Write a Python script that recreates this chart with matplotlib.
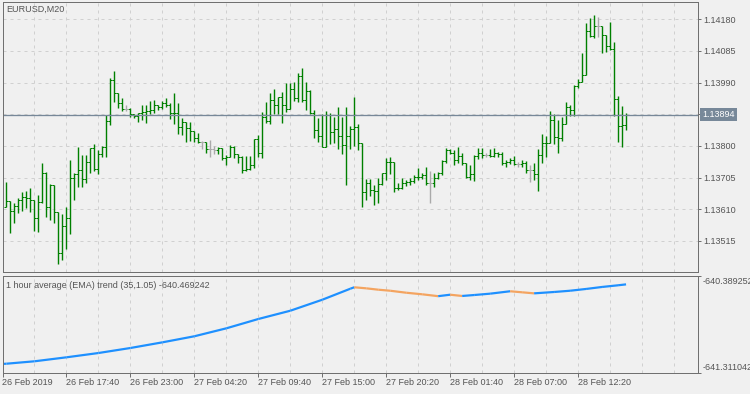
import matplotlib
matplotlib.use("Agg")
import matplotlib.pyplot as plt
import numpy as np

# --- data (EURUSD, 20 minute bars) ---
symbol_title = "EURUSD,M20"
first_open = 1.13616

highs = [1.13691, 1.13634, 1.13628, 1.13644, 1.13662, 1.13665, 1.13674, 1.13637, 1.13652, 1.13749,
         1.13721, 1.13686, 1.13683, 1.13602, 1.13596, 1.13617, 1.13758, 1.13719, 1.13798, 1.13773,
         1.13772, 1.13794, 1.13805, 1.13788, 1.13800, 1.13893, 1.14003, 1.14024, 1.13959, 1.13944,
         1.13923, 1.13913, 1.13896, 1.13900, 1.13923, 1.13923, 1.13936, 1.13938, 1.13924, 1.13934,
         1.13943, 1.13928, 1.13960, 1.13928, 1.13883, 1.13873, 1.13871, 1.13846, 1.13838, 1.13815,
         1.13813, 1.13818, 1.13799, 1.13796, 1.13793, 1.13773, 1.13803, 1.13800, 1.13775, 1.13771,
         1.13770, 1.13770, 1.13821, 1.13833, 1.13903, 1.13931, 1.13958, 1.13970, 1.13948, 1.13961,
         1.13988, 1.13988, 1.13993, 1.14018, 1.14033, 1.13993, 1.13968, 1.13908, 1.13885, 1.13895,
         1.13906, 1.13900, 1.13886, 1.13918, 1.13886, 1.13916, 1.13860, 1.13946, 1.13866, 1.13808,
         1.13701, 1.13700, 1.13683, 1.13703, 1.13720, 1.13763, 1.13768, 1.13753, 1.13690, 1.13703,
         1.13698, 1.13703, 1.13713, 1.13733, 1.13718, 1.13738, 1.13725, 1.13720, 1.13723, 1.13758,
         1.13793, 1.13790, 1.13788, 1.13798, 1.13778, 1.13750, 1.13743, 1.13773, 1.13793, 1.13795,
         1.13778, 1.13790, 1.13795, 1.13783, 1.13783, 1.13758, 1.13763, 1.13770, 1.13753, 1.13758,
         1.13756, 1.13743, 1.13748, 1.13790, 1.13836, 1.13831, 1.13905, 1.13896, 1.13878, 1.13888,
         1.13932, 1.13923, 1.13983, 1.14000, 1.14078, 1.14170, 1.14183, 1.14193, 1.14188, 1.14160,
         1.14133, 1.14173, 1.14113, 1.13950, 1.13920, 1.13900]

lows = [1.13616, 1.13538, 1.13568, 1.13600, 1.13606, 1.13615, 1.13603, 1.13546, 1.13541, 1.13628,
        1.13588, 1.13578, 1.13569, 1.13445, 1.13457, 1.13492, 1.13535, 1.13639, 1.13678, 1.13678,
        1.13688, 1.13718, 1.13725, 1.13715, 1.13766, 1.13768, 1.13862, 1.13932, 1.13913, 1.13906,
        1.13906, 1.13888, 1.13883, 1.13872, 1.13878, 1.13868, 1.13896, 1.13900, 1.13908, 1.13912,
        1.13916, 1.13881, 1.13865, 1.13836, 1.13833, 1.13813, 1.13816, 1.13813, 1.13808, 1.13790,
        1.13780, 1.13768, 1.13776, 1.13776, 1.13758, 1.13743, 1.13766, 1.13763, 1.13748, 1.13720,
        1.13726, 1.13728, 1.13733, 1.13768, 1.13763, 1.13868, 1.13866, 1.13895, 1.13896, 1.13868,
        1.13903, 1.13910, 1.13936, 1.13933, 1.13933, 1.13908, 1.13896, 1.13825, 1.13813, 1.13796,
        1.13798, 1.13806, 1.13808, 1.13790, 1.13776, 1.13683, 1.13790, 1.13800, 1.13788, 1.13618,
        1.13638, 1.13650, 1.13623, 1.13628, 1.13683, 1.13698, 1.13716, 1.13663, 1.13668, 1.13670,
        1.13680, 1.13683, 1.13688, 1.13698, 1.13700, 1.13683, 1.13628, 1.13676, 1.13700, 1.13713,
        1.13748, 1.13775, 1.13743, 1.13748, 1.13743, 1.13703, 1.13698, 1.13696, 1.13760, 1.13763,
        1.13768, 1.13766, 1.13768, 1.13766, 1.13743, 1.13738, 1.13746, 1.13743, 1.13738, 1.13736,
        1.13718, 1.13693, 1.13698, 1.13666, 1.13748, 1.13768, 1.13808, 1.13806, 1.13778, 1.13815,
        1.13865, 1.13890, 1.13890, 1.13973, 1.13993, 1.14013, 1.14128, 1.14123, 1.14126, 1.14078,
        1.14083, 1.14088, 1.13890, 1.13813, 1.13796, 1.13848]

closes = [1.13634, 1.13604, 1.13620, 1.13637, 1.13647, 1.13645, 1.13637, 1.13583, 1.13631, 1.13720,
          1.13616, 1.13683, 1.13602, 1.13479, 1.13560, 1.13583, 1.13705, 1.13715, 1.13728, 1.13701,
          1.13752, 1.13793, 1.13731, 1.13776, 1.13798, 1.13874, 1.13997, 1.13958, 1.13928, 1.13912,
          1.13912, 1.13896, 1.13891, 1.13898, 1.13903, 1.13905, 1.13908, 1.13923, 1.13916, 1.13930,
          1.13923, 1.13898, 1.13900, 1.13856, 1.13871, 1.13853, 1.13846, 1.13823, 1.13813, 1.13813,
          1.13790, 1.13790, 1.13789, 1.13793, 1.13763, 1.13768, 1.13798, 1.13775, 1.13768, 1.13728,
          1.13730, 1.13742, 1.13820, 1.13778, 1.13888, 1.13875, 1.13938, 1.13923, 1.13946, 1.13923,
          1.13910, 1.13970, 1.13943, 1.14010, 1.13938, 1.13965, 1.13900, 1.13848, 1.13830, 1.13798,
          1.13893, 1.13843, 1.13850, 1.13830, 1.13803, 1.13830, 1.13850, 1.13858, 1.13808, 1.13661,
          1.13688, 1.13668, 1.13665, 1.13686, 1.13718, 1.13753, 1.13751, 1.13675, 1.13673, 1.13690,
          1.13693, 1.13696, 1.13708, 1.13706, 1.13713, 1.13690, 1.13690, 1.13705, 1.13720, 1.13755,
          1.13788, 1.13780, 1.13758, 1.13770, 1.13748, 1.13708, 1.13715, 1.13771, 1.13780, 1.13773,
          1.13773, 1.13771, 1.13780, 1.13776, 1.13748, 1.13753, 1.13758, 1.13746, 1.13745, 1.13750,
          1.13728, 1.13728, 1.13716, 1.13773, 1.13808, 1.13810, 1.13878, 1.13826, 1.13823, 1.13865,
          1.13916, 1.13908, 1.13981, 1.13993, 1.14013, 1.14146, 1.14131, 1.14161, 1.14160, 1.14133,
          1.14100, 1.14090, 1.13940, 1.13860, 1.13862, 1.13894]

price_ticks = [1.14180, 1.14085, 1.13990, 1.13895, 1.13800, 1.13705, 1.13610, 1.13515]
last_price = 1.13894

time_labels = ["26 Feb 2019", "26 Feb 17:40", "26 Feb 23:00", "27 Feb 04:20", "27 Feb 09:40",
               "27 Feb 15:00", "27 Feb 20:20", "28 Feb 01:40", "28 Feb 07:00", "28 Feb 12:20"]
time_label_bars = [-1, 15, 31, 47, 63, 79, 95, 111, 127, 143]

ema_title = "1 hour average (EMA) trend (35,1.05) -640.469242"
ema_bars = [-1, 0, 7, 15, 23, 31, 39, 47, 55, 63, 71, 79, 86, 87, 90, 93, 96, 100, 104, 108,
            111, 114, 117, 121, 126, 129, 132, 137, 141, 145, 149, 153, 155]
ema_vals = [-641.229, -641.227, -641.204, -641.166, -641.125, -641.077, -641.023, -640.965,
            -640.889, -640.800, -640.721, -640.616, -640.511, -640.497, -640.507, -640.520,
            -640.530, -640.549, -640.564, -640.582, -640.568, -640.580, -640.571, -640.558,
            -640.535, -640.545, -640.555, -640.542, -640.530, -640.513, -640.494, -640.478,
            -640.469242]
ema_top = -640.389252
ema_bottom = -641.311042

# --- style ---
W, H = 750, 394
bg = "#f0f0f0"
fg = "#555555"
frame = "#707070"
gridc = "#d0d0d0"
bar_up = "#008000"
bar_doji = "#aaaaaa"
price_line = "#778899"
rise_col = "#1e90ff"
fall_col = "#f4a460"
px = 0.72  # one pixel in points at dpi 100

plt.rcParams["font.family"] = ["Liberation Sans", "DejaVu Sans"]
plt.rcParams["font.size"] = 6.5


def box(x0, y0, x1, y1):
    return [x0 / W, 1 - y1 / H, (x1 - x0) / W, (y1 - y0) / H]


fig = plt.figure(figsize=(W / 100, H / 100), dpi=100, facecolor=bg)
ax = fig.add_axes(box(2.5, 2, 697.5, 272))
ax2 = fig.add_axes(box(2.5, 276, 697.5, 372.5))

x = np.arange(len(closes))
opens = np.array([first_open] + closes[:-1])
cl = np.array(closes)
cols = [bar_doji if np.isclose(o, c) else bar_up for o, c in zip(opens, cl)]

for a in (ax, ax2):
    a.set_facecolor(bg)
    a.set_xlim(-0.875, 172.875)
    for s in a.spines.values():
        s.set_color(frame)
        s.set_linewidth(px)
    a.set_xticks(np.arange(-1, 172, 8), minor=True)
    a.grid(True, which="both", axis="x", color=gridc, lw=px, ls=(0, (3, 4)))

# --- price panel ---
ax.vlines(x, lows, highs, colors=cols, lw=1.4 * px)
ax.hlines(opens, x - 0.5, x, colors=cols, lw=px)
ax.hlines(cl, x, x + 0.5, colors=cols, lw=px)
ax.axhline(last_price, color=price_line, lw=1.3 * px)

ax.set_ylim(1.134219, 1.142319)
ax.set_yticks(price_ticks)
ax.set_yticklabels(["" if abs(p - 1.13895) < 1e-7 else f"{p:.5f}" for p in price_ticks])
ax.yaxis.tick_right()
ax.tick_params(axis="y", length=3 * px, width=px, color=frame, pad=2.2, labelcolor=fg)
ax.set_xticks([])
ax.grid(True, axis="y", color=gridc, lw=px, ls=(0, (3, 4)))
ax.tick_params(axis="x", which="both", length=0, labelbottom=False)
ax.set_axisbelow(True)

ax.annotate(f"{last_price:.5f}", xy=(1, last_price), xycoords=ax.get_yaxis_transform(),
            xytext=(4.5, 0), textcoords="offset pixels", ha="left", va="center",
            color="white", fontsize=6.5,
            bbox=dict(boxstyle="square,pad=0.25", fc=price_line, ec="none"))
fig.text(6.5 / W, 1 - 9.5 / H, symbol_title, color=fg, ha="left", va="center")

# --- indicator panel ---
ev = np.array(ema_vals)
for i in range(len(ema_bars) - 1):
    c = rise_col if ev[i + 1] >= ev[i] else fall_col
    ax2.plot(ema_bars[i:i + 2], ev[i:i + 2], color=c, lw=2.2 * px, solid_capstyle="butt")

ax2.set_ylim(ema_bottom, ema_top)
ax2.set_yticks([ema_bottom, ema_top])
ax2.yaxis.tick_right()
ax2.tick_params(axis="y", length=3 * px, width=px, color=frame, labelright=False)
ax2.set_xticks(time_label_bars)
ax2.set_xticklabels(time_labels, ha="left")
ax2.tick_params(axis="x", which="major", length=4 * px, width=px, color=frame, pad=1.0,
                labelcolor=fg)
ax2.tick_params(axis="x", which="minor", length=0)
ax2.set_axisbelow(True)

fig.text(703 / W, 1 - 276.5 / H, f"{ema_top:.6f}", color=fg, ha="left", va="top")
fig.text(703 / W, 1 - 372 / H, f"{ema_bottom:.6f}", color=fg, ha="left", va="bottom")
fig.text(6.3 / W, 1 - 285 / H, ema_title, color=fg, ha="left", va="center")

fig.savefig("out.png", dpi=100, facecolor=bg)
